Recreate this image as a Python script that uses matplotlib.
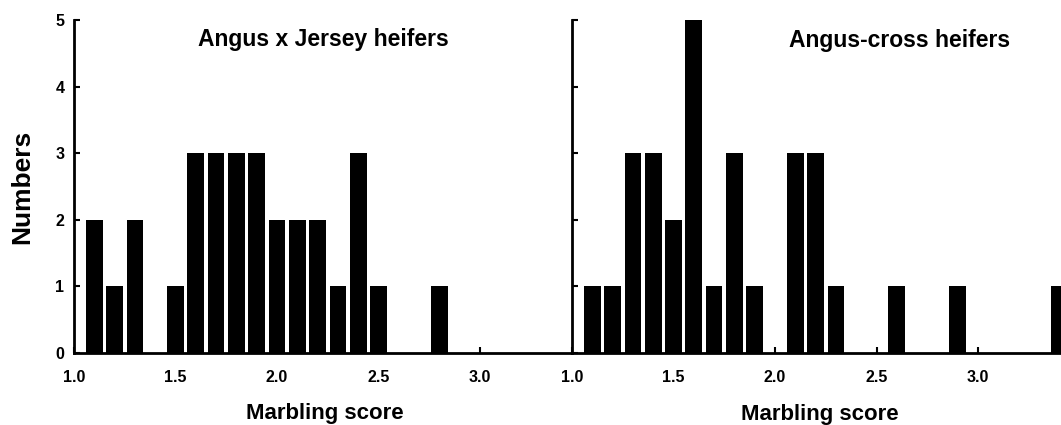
import matplotlib
matplotlib.use("Agg")
import matplotlib.pyplot as plt

# marbling score classes (bin centres) and number of heifers in each
scores_aj = [1.1, 1.2, 1.3, 1.4, 1.5, 1.6, 1.7, 1.8, 1.9, 2.0, 2.1, 2.2, 2.3,
             2.4, 2.5, 2.6, 2.7, 2.8]
counts_aj = [2, 1, 2, 0, 1, 3, 3, 3, 3, 2, 2, 2, 1, 3, 1, 0, 0, 1]

scores_ac = [1.1, 1.2, 1.3, 1.4, 1.5, 1.6, 1.7, 1.8, 1.9, 2.0, 2.1, 2.2, 2.3,
             2.4, 2.5, 2.6, 2.7, 2.8, 2.9, 3.0, 3.1, 3.2, 3.3, 3.4]
counts_ac = [1, 1, 3, 3, 2, 5, 1, 3, 1, 0, 3, 3, 1, 0, 0, 1, 0, 0, 1, 0, 0, 0,
             0, 1]

x_ticks = [1.0, 1.5, 2.0, 2.5, 3.0]
x_ticklabels = ["1.0", "1.5", "2.0", "2.5", "3.0"]
y_ticks = [0, 1, 2, 3, 4, 5]

plt.rcParams["font.family"] = ["Liberation Sans", "DejaVu Sans"]
plt.rcParams["font.weight"] = "bold"

W, H = 1061, 425
fig = plt.figure(figsize=(W / 100, H / 100), dpi=100)
# both panels use the same x scale (about 203 px per score unit)
ax1 = fig.add_axes([74 / W, 1 - 353 / H, 497 / W, 333 / H])
ax2 = fig.add_axes([572 / W, 1 - 353 / H, 489 / W, 333 / H])


def style(ax, xmax, show_ylabels):
    ax.set_xlim(1.0, xmax)
    ax.set_ylim(0, 5)
    for side in ["top", "right"]:
        ax.spines[side].set_visible(False)
    for side in ["left", "bottom"]:
        ax.spines[side].set_linewidth(2.0)
        ax.spines[side].set_zorder(3)
    ax.set_xticks(x_ticks)
    ax.set_xticklabels(x_ticklabels)
    ax.set_yticks(y_ticks)
    ax.tick_params(axis="both", direction="in", length=4, width=1.5,
                   labelsize=11.5)
    ax.tick_params(axis="x", pad=12)
    ax.tick_params(axis="y", pad=7, labelleft=show_ylabels)
    for lab in ax.get_xticklabels() + ax.get_yticklabels():
        lab.set_fontweight("bold")


ax1.bar(scores_aj, counts_aj, width=0.082, color="black", zorder=2)
ax2.bar(scores_ac, counts_ac, width=0.082, color="black", zorder=2)
style(ax1, 1 + 497 / 203, True)
style(ax2, 1 + 489 / 203, False)

fig.text(323 / W, 1 - 46 / H, "Angus x Jersey heifers", ha="center",
         va="baseline", fontsize=16.5, fontweight="bold")
fig.text(900 / W, 1 - 47 / H, "Angus-cross heifers", ha="center",
         va="baseline", fontsize=16.5, fontweight="bold")
fig.text(325 / W, 1 - 419 / H, "Marbling score", ha="center",
         va="baseline", fontsize=16, fontweight="bold")
fig.text(820 / W, 1 - 420 / H, "Marbling score", ha="center",
         va="baseline", fontsize=16, fontweight="bold")
fig.text(22 / W, 1 - 187 / H, "Numbers", ha="center", va="center",
         rotation=90, fontsize=19, fontweight="bold")

fig.savefig("out.png", dpi=100)
